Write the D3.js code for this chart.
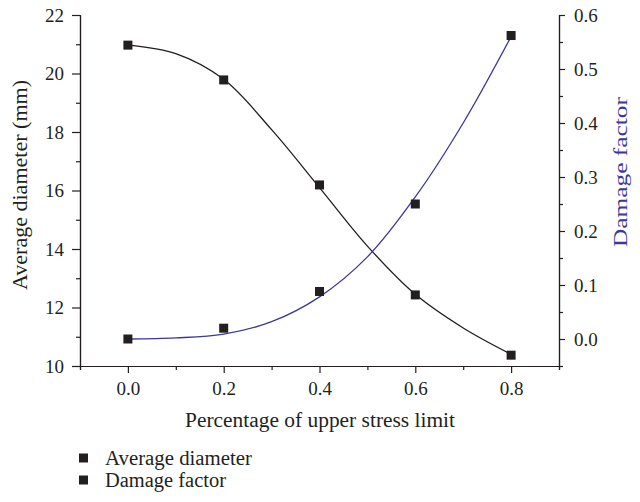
<!DOCTYPE html>
<html>
<head>
<meta charset="utf-8">
<script src="https://cdn.jsdelivr.net/npm/d3@7"></script>
<style>
  html, body { margin: 0; padding: 0; background: #fff; }
  svg { display: block; }
  text { font-family: "Liberation Serif", "DejaVu Serif", serif; fill: #231f20; }
</style>
</head>
<body>
<svg id="chart" width="640" height="502"></svg>
<script>
// ---- data ----
const stressLevels = [0.0, 0.2, 0.4, 0.6, 0.8];
const avgDiameter = [20.97, 19.78, 16.19, 12.43, 10.37];
const damageFactor = [0.0, 0.02, 0.088, 0.25, 0.562];

// fitted curves
const fitX = [0.0, 0.1, 0.2, 0.3, 0.4, 0.5, 0.6, 0.7, 0.8];
const fitDiameter = [20.97, 20.68, 19.8, 18.08, 16.1, 14.1, 12.45, 11.3, 10.4];
const fitDamage = [0.0, 0.002, 0.009, 0.032, 0.078, 0.152, 0.263, 0.40, 0.56];

const xTicks = [0.0, 0.2, 0.4, 0.6, 0.8];
const xMinor = [-0.1, 0.1, 0.3, 0.5, 0.7, 0.9];
const yLeftTicks = [10, 12, 14, 16, 18, 20, 22];
const yLeftMinor = [11, 13, 15, 17, 19, 21];
const yRightTicks = [0.0, 0.1, 0.2, 0.3, 0.4, 0.5, 0.6];
const yRightMinor = [-0.05, 0.05, 0.15, 0.25, 0.35, 0.45, 0.55];

const seriesNames = ["Average diameter", "Damage factor"];
const xTitle = "Percentage of upper stress limit";
const yLeftTitle = "Average diameter (mm)";
const yRightTitle = "Damage factor";

// ---- layout ----
const L = 80, R = 559, T = 15, B = 366;
const dark = "#231f20", blue = "#3c3799";
const svg = d3.select("#chart");

const x = d3.scaleLinear().domain([-0.1, 0.9]).range([L, R]);
const yL = d3.scaleLinear().domain([10, 22]).range([B, T]);
const yR = d3.scaleLinear().domain([-0.05, 0.6]).range([B, T]);

function styleAxis(g) {
  g.selectAll("path, line").attr("stroke", dark).attr("stroke-width", 1.2);
  g.selectAll("text").attr("font-size", 19).attr("fill", dark)
    .attr("font-family", "Liberation Serif, serif");
}

// minor ticks
svg.append("g").attr("transform", `translate(0,${B})`)
  .call(d3.axisBottom(x).tickValues(xMinor).tickSize(4).tickFormat(""))
  .call(styleAxis);
svg.append("g").attr("transform", `translate(${L},0)`)
  .call(d3.axisLeft(yL).tickValues(yLeftMinor).tickSize(4).tickFormat(""))
  .call(styleAxis);
svg.append("g").attr("transform", `translate(${R},0)`)
  .call(d3.axisRight(yR).tickValues(yRightMinor).tickSize(4).tickFormat(""))
  .call(styleAxis);

// major axes
svg.append("g").attr("transform", `translate(0,${B})`)
  .call(d3.axisBottom(x).tickValues(xTicks).tickSize(7).tickSizeOuter(0).tickPadding(9).tickFormat(d3.format(".1f")))
  .call(styleAxis);
svg.append("g").attr("transform", `translate(${L},0)`)
  .call(d3.axisLeft(yL).tickValues(yLeftTicks).tickSize(8).tickSizeOuter(0).tickPadding(8).tickFormat(d3.format("d")))
  .call(styleAxis);
svg.append("g").attr("transform", `translate(${R},0)`)
  .call(d3.axisRight(yR).tickValues(yRightTicks).tickSize(6).tickSizeOuter(0).tickPadding(9).tickFormat(d3.format(".1f")))
  .call(styleAxis);

// titles
svg.append("text").attr("x", 320).attr("y", 427)
  .attr("text-anchor", "middle").attr("font-size", 20)
  .attr("textLength", 270).attr("lengthAdjust", "spacingAndGlyphs").text(xTitle);
svg.append("text").attr("transform", `translate(27,185) rotate(-90)`)
  .attr("text-anchor", "middle").attr("font-size", 20)
  .attr("textLength", 210).attr("lengthAdjust", "spacingAndGlyphs").text(yLeftTitle);
svg.append("text").attr("transform", `translate(627,172) rotate(-90)`)
  .attr("text-anchor", "middle").attr("font-size", 19)
  .attr("textLength", 150).attr("lengthAdjust", "spacingAndGlyphs")
  .style("fill", blue).text(yRightTitle);

// curves
const lineL = d3.line().x((d, i) => x(fitX[i])).y(d => yL(d)).curve(d3.curveCatmullRom.alpha(0.5));
const lineR = d3.line().x((d, i) => x(fitX[i])).y(d => yR(d)).curve(d3.curveCatmullRom.alpha(0.5));
svg.append("path").datum(fitDiameter).attr("d", lineL)
  .attr("fill", "none").attr("stroke", dark).attr("stroke-width", 1.3);
svg.append("path").datum(fitDamage).attr("d", lineR)
  .attr("fill", "none").attr("stroke", blue).attr("stroke-width", 1.3);

// markers
const ms = 9;
svg.append("g").selectAll("rect").data(avgDiameter).join("rect")
  .attr("x", (d, i) => x(stressLevels[i]) - ms / 2).attr("y", d => yL(d) - ms / 2)
  .attr("width", ms).attr("height", ms).attr("fill", dark);
svg.append("g").selectAll("rect").data(damageFactor).join("rect")
  .attr("x", (d, i) => x(stressLevels[i]) - ms / 2).attr("y", d => yR(d) - ms / 2)
  .attr("width", ms).attr("height", ms).attr("fill", dark);

// legend
const legendLengths = [147, 121];
const lg = svg.append("g");
seriesNames.forEach((name, i) => {
  const cy = 458 + i * 22;
  lg.append("rect").attr("x", 79).attr("y", cy - 4.5).attr("width", ms).attr("height", ms).attr("fill", dark);
  lg.append("text").attr("x", 105).attr("y", cy + 7).attr("font-size", 20)
    .attr("textLength", legendLengths[i]).attr("lengthAdjust", "spacingAndGlyphs").text(name);
});
</script>
</body>
</html>
